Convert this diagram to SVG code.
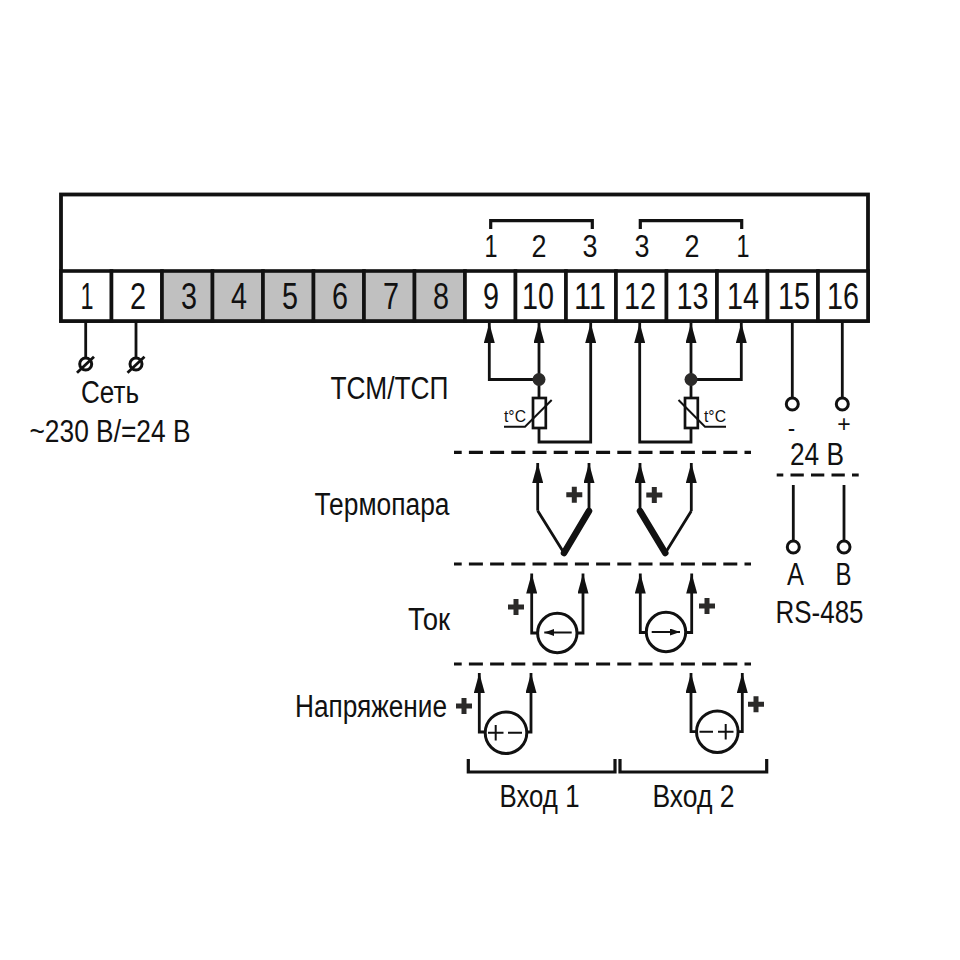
<svg xmlns="http://www.w3.org/2000/svg" width="960" height="960" viewBox="0 0 960 960">
<style>
text{font-family:"Liberation Sans",Arial,sans-serif;fill:#111;text-anchor:middle;font-size:31px}
.num{font-size:36px}
.dig{font-size:31px}
.cell{fill:#fff;stroke:#111;stroke-width:3.6}
.grey{fill:#c0c0c0}
.w{fill:none;stroke:#111;stroke-width:2.8;stroke-linejoin:miter}
.th{fill:none;stroke:#111;stroke-width:6.5;stroke-linecap:round}
.t{fill:none;stroke:#111;stroke-width:2}
.ring{fill:#fff;stroke:#111;stroke-width:3}
.dash{fill:none;stroke:#111;stroke-width:3.2;stroke-dasharray:14 7.2;stroke-dashoffset:6.3}
.br{fill:none;stroke:#111;stroke-width:3.2}
.plus{fill:none;stroke:#2b2a29;stroke-width:5}
.small{font-size:17px}
</style>
<defs>
<marker id="a" markerUnits="userSpaceOnUse" markerWidth="20" markerHeight="11" refX="20" refY="5.5" orient="auto" viewBox="0 0 20 11"><path d="M0 0L20 5.5L0 11z" fill="#111"/></marker>
<marker id="s" markerUnits="userSpaceOnUse" markerWidth="10" markerHeight="7" refX="10" refY="3.5" orient="auto" viewBox="0 0 10 7"><path d="M0 0L10 3.5L0 7z" fill="#111"/></marker>
<path id="p" d="M-8 0H8M0-8V8" class="plus"/>
</defs>
<g id="housing"><rect x="61" y="194.500" width="807" height="126.500" fill="#fff" stroke="#111" stroke-width="3.800"/></g>
<g id="terminals">
<g id="t1"><rect class="cell" x="61" y="271" width="50.500" height="50"/><text class="num" x="87" y="308.500" textLength="13" lengthAdjust="spacingAndGlyphs">1</text></g>
<g id="t2"><rect class="cell" x="111.500" y="271" width="50.500" height="50"/><text class="num" x="138" y="308.500" textLength="16" lengthAdjust="spacingAndGlyphs">2</text></g>
<g id="t3"><rect class="cell grey" x="162" y="271" width="50.500" height="50"/><text class="num" x="189" y="308.500" textLength="16" lengthAdjust="spacingAndGlyphs">3</text></g>
<g id="t4"><rect class="cell grey" x="212.500" y="271" width="50.500" height="50"/><text class="num" x="239" y="308.500" textLength="16" lengthAdjust="spacingAndGlyphs">4</text></g>
<g id="t5"><rect class="cell grey" x="263" y="271" width="50.500" height="50"/><text class="num" x="290" y="308.500" textLength="16" lengthAdjust="spacingAndGlyphs">5</text></g>
<g id="t6"><rect class="cell grey" x="313.500" y="271" width="50.500" height="50"/><text class="num" x="340" y="308.500" textLength="16" lengthAdjust="spacingAndGlyphs">6</text></g>
<g id="t7"><rect class="cell grey" x="364" y="271" width="50.500" height="50"/><text class="num" x="391" y="308.500" textLength="16" lengthAdjust="spacingAndGlyphs">7</text></g>
<g id="t8"><rect class="cell grey" x="414.500" y="271" width="50.500" height="50"/><text class="num" x="441" y="308.500" textLength="16" lengthAdjust="spacingAndGlyphs">8</text></g>
<g id="t9"><rect class="cell" x="465" y="271" width="50.500" height="50"/><text class="num" x="491" y="308.500" textLength="16" lengthAdjust="spacingAndGlyphs">9</text></g>
<g id="t10"><rect class="cell" x="515.500" y="271" width="50.500" height="50"/><text class="num" x="538" y="308.500" textLength="32" lengthAdjust="spacingAndGlyphs">10</text></g>
<g id="t11"><rect class="cell" x="566" y="271" width="50" height="50"/><text class="num" x="590" y="308.500" textLength="32" lengthAdjust="spacingAndGlyphs">11</text></g>
<g id="t12"><rect class="cell" x="616" y="271" width="50.500" height="50"/><text class="num" x="640" y="308.500" textLength="32" lengthAdjust="spacingAndGlyphs">12</text></g>
<g id="t13"><rect class="cell" x="666.500" y="271" width="50.500" height="50"/><text class="num" x="692.500" y="308.500" textLength="32" lengthAdjust="spacingAndGlyphs">13</text></g>
<g id="t14"><rect class="cell" x="717" y="271" width="50.500" height="50"/><text class="num" x="743" y="308.500" textLength="32" lengthAdjust="spacingAndGlyphs">14</text></g>
<g id="t15"><rect class="cell" x="767.500" y="271" width="50.500" height="50"/><text class="num" x="794" y="308.500" textLength="32" lengthAdjust="spacingAndGlyphs">15</text></g>
<g id="t16"><rect class="cell" x="818" y="271" width="50" height="50"/><text class="num" x="843" y="308.500" textLength="32" lengthAdjust="spacingAndGlyphs">16</text></g>
</g>
<g id="connectors">
<path class="br" d="M490.700 229V220.700H592.300V229M640.300 229V220.700H741.700V229"/>
<path class="dash" d="M454 452.300H751M454 564H751M454 664H751"/>
<path class="dash" style="stroke-dasharray:13.300 7.200;stroke-dashoffset:6.700" d="M776.700 475H858.700"/>
<path class="br" d="M468.300 759V772H615V759M620 759V772H766.700V759"/>
<path class="w" d="M85.700 321V358M136 321V358M792.300 321V398M842.300 321V398M793.300 485V541M844 485V541"/>
<path class="w" marker-end="url(#a)" d="M539 379.500V323"/>
<path class="w" marker-end="url(#a)" d="M539 379.500H489.300V323"/>
<path class="w" d="M539 379.500V398"/>
<path class="w" marker-end="url(#a)" d="M539 428V442H590.700V323"/>
<path class="w" marker-end="url(#a)" d="M691 379.500V323"/>
<path class="w" marker-end="url(#a)" d="M691 379.500H741.300V323"/>
<path class="w" d="M691 379.500V398"/>
<path class="w" marker-end="url(#a)" d="M691 428V442H639.700V323"/>
<path class="w" marker-end="url(#a)" d="M537.700 510.700V463"/>
<path class="w" marker-end="url(#a)" d="M589 511V463"/>
<path class="w" marker-end="url(#a)" d="M640 511V463"/>
<path class="w" marker-end="url(#a)" d="M691.300 511V463"/>
<path class="w" d="M537.700 510.700L564 553M691.300 511L665.300 553"/>
<path class="th" d="M564 553L589 511M640 511L665.300 553"/>
<path class="w" marker-end="url(#a)" d="M537.500 633H531.700V573.500"/>
<path class="w" marker-end="url(#a)" d="M577 633H583V573.500"/>
<path class="w" marker-end="url(#a)" d="M646 632.500H640.300V573.500"/>
<path class="w" marker-end="url(#a)" d="M686 632.500H691.700V573.500"/>
<path class="w" marker-end="url(#a)" d="M485.500 732H479.300V673"/>
<path class="w" marker-end="url(#a)" d="M526.500 732H531V673"/>
<path class="w" marker-end="url(#a)" d="M697 731.700H691V673"/>
<path class="w" marker-end="url(#a)" d="M738 731.700H742.300V673"/>
</g>
<g id="mains"><g id="mains-1"><ellipse class="ring" cx="85.700" cy="364" rx="6" ry="6"/><path class="w" d="M77 372.700L94 356.700"/></g><g id="mains-2"><ellipse class="ring" cx="136" cy="364" rx="6" ry="6"/><path class="w" d="M127.500 372.700L144.500 356.700"/></g><text x="110" y="402.700" textLength="58" lengthAdjust="spacingAndGlyphs">Сеть</text><text x="110" y="441.700" textLength="161" lengthAdjust="spacingAndGlyphs">~230 В/=24 В</text></g>
<g id="pin-labels">
<text class="dig" x="491" y="257" textLength="13" lengthAdjust="spacingAndGlyphs">1</text><text class="dig" x="539" y="257" textLength="15" lengthAdjust="spacingAndGlyphs">2</text><text class="dig" x="590" y="257" textLength="15" lengthAdjust="spacingAndGlyphs">3</text>
<text class="dig" x="642" y="257" textLength="15" lengthAdjust="spacingAndGlyphs">3</text><text class="dig" x="692" y="257" textLength="15" lengthAdjust="spacingAndGlyphs">2</text><text class="dig" x="743" y="257" textLength="13" lengthAdjust="spacingAndGlyphs">1</text>
</g>
<g id="rtd-1"><circle cx="539" cy="379.500" r="6.500" fill="#2b2a29"/><rect x="533" y="398" width="12.800" height="30" fill="#fff" stroke="#111" stroke-width="2.700"/><path class="t" d="M504 426.700H525L551.700 400"/><text class="small" x="515" y="421.500" textLength="22" lengthAdjust="spacingAndGlyphs">t°C</text></g>
<g id="rtd-2"><circle cx="691" cy="379.500" r="6.500" fill="#2b2a29"/><rect x="685" y="398" width="12.800" height="30" fill="#fff" stroke="#111" stroke-width="2.700"/><path class="t" d="M726 426.700H705L678.500 400"/><text class="small" x="715" y="421.500" textLength="22" lengthAdjust="spacingAndGlyphs">t°C</text></g>
<g id="plus-marks">
<use href="#p" x="574.300" y="494.700"/><use href="#p" x="654.300" y="495"/><use href="#p" x="516" y="607"/><use href="#p" x="707" y="606"/><use href="#p" x="464" y="706"/><use href="#p" x="756" y="704.300"/>
</g>
<g id="current-1"><circle class="ring" cx="557.300" cy="633" r="19.700"/><path class="t" marker-end="url(#s)" d="M571.700 632.500H544.300"/></g>
<g id="current-2"><circle class="ring" cx="666" cy="632" r="19.700"/><path class="t" marker-end="url(#s)" d="M651.700 632H680"/></g>
<g id="voltage-1"><circle class="ring" cx="506" cy="732.700" r="20.800"/><path class="t" d="M488 732.700H503.500M495.700 725V740.500M508 732.700H522"/></g>
<g id="voltage-2"><circle class="ring" cx="717.300" cy="731.700" r="20.800"/><path class="t" d="M699.500 731.700H713M718 731.700H733.500M725.700 724V739.500"/></g>
<g id="rs485">
<circle class="ring" cx="792.300" cy="404" r="6"/><circle class="ring" cx="842.300" cy="404" r="6"/>
<circle class="ring" cx="793.300" cy="547" r="6"/><circle class="ring" cx="844" cy="547" r="6"/>
<text x="791.500" y="434" style="font-size:16px;font-weight:bold" textLength="7" lengthAdjust="spacingAndGlyphs">-</text><text x="844" y="431.500" style="font-size:23px">+</text>
<text x="817" y="465" textLength="54" lengthAdjust="spacingAndGlyphs">24 В</text>
<text x="795.500" y="585" textLength="17" lengthAdjust="spacingAndGlyphs">A</text><text x="843.500" y="585" textLength="16" lengthAdjust="spacingAndGlyphs">B</text>
<text x="819.500" y="623" textLength="88" lengthAdjust="spacingAndGlyphs">RS-485</text>
</g>
<g id="labels">
<text x="389.500" y="399.300" textLength="118" lengthAdjust="spacingAndGlyphs">ТСМ/ТСП</text>
<text x="382" y="515" textLength="135" lengthAdjust="spacingAndGlyphs">Термопара</text>
<text x="429" y="630" textLength="42" lengthAdjust="spacingAndGlyphs">Ток</text>
<text x="371" y="717" textLength="152" lengthAdjust="spacingAndGlyphs">Напряжение</text>
<text x="539.500" y="806.700" textLength="80" lengthAdjust="spacingAndGlyphs">Вход 1</text>
<text x="693.500" y="806.700" textLength="82" lengthAdjust="spacingAndGlyphs">Вход 2</text>
</g>
</svg>
